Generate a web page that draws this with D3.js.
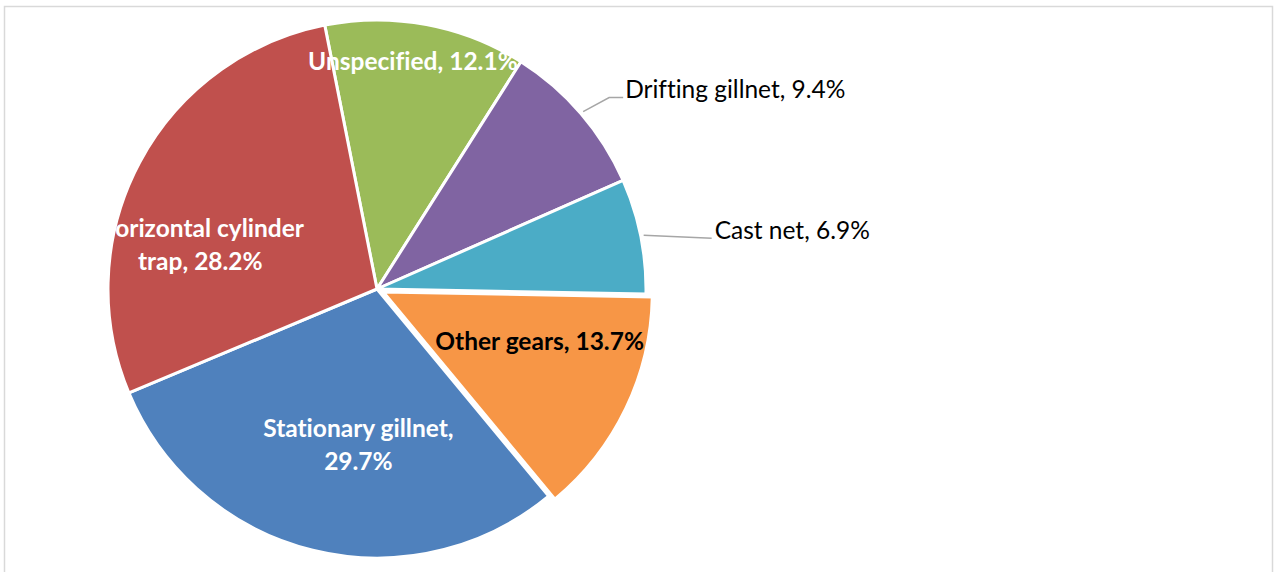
<!DOCTYPE html>
<html>
<head>
<meta charset="utf-8">
<script src="https://cdn.jsdelivr.net/npm/d3@7"></script>
<style>
  body { margin: 0; background: #fff; }
  svg { display: block; font-family: Lato, 'Noto Sans', sans-serif; font-variant-ligatures: none; }
  .leader { fill: none; stroke: #a6a6a6; stroke-width: 1.5; }
</style>
</head>
<body>
<div id="chart"></div>
<script>
// Gear types, clockwise from just left of 12 o'clock
const categories = ['Unspecified', 'Drifting gillnet', 'Cast net', 'Other gears', 'Stationary gillnet', 'Horizontal cylinder trap'];
const shares = [12.1, 9.4, 6.9, 13.7, 29.7, 28.2];
const colors = ['#9bbb59', '#8064a2', '#4bacc6', '#f79646', '#4f81bd', '#c0504d'];

// label layout: lines, colour, placement (angle shift in deg, radius fraction) or outside
const labelLayout = {
  'Unspecified': { lines: ['Unspecified, 12.1%'], fill: '#fff', bold: true, da: -1.6, rf: 0.855 },
  'Drifting gillnet': { lines: ['Drifting gillnet, 9.4%'], outside: true, knee: [26, -14], tx: 42, ty: -22 },
  'Cast net': { lines: ['Cast net, 6.9%'], outside: true, knee: [68, 3], tx: 71, ty: -5 },
  'Other gears': { lines: ['Other gears, 13.7%'], fill: '#000', bold: true, da: -8, rf: 0.61 },
  'Stationary gillnet': { lines: ['Stationary gillnet,', '29.7%'], fill: '#fff', bold: true, da: -7, rf: 0.583 },
  'Horizontal cylinder trap': { lines: ['Horizontal cylinder', 'trap, 28.2%'], fill: '#fff', bold: true, da: -14, rf: 0.677 }
};
const exploded = { 'Other gears': 7 };

const W = 1280, H = 572;
const cx = 377, cy = 289, R = 269;
const rad = d => d * Math.PI / 180;

const svg = d3.select('#chart').append('svg')
  .attr('width', W)
  .attr('height', H);

// chart frame
svg.append('rect')
  .attr('x', 4.5).attr('y', 6.5)
  .attr('width', 1268).attr('height', 600)
  .attr('fill', '#fff')
  .attr('stroke', '#d9d9d9')
  .attr('stroke-width', 1.5);

const data = categories.map((c, i) => ({ name: c, value: shares[i], color: colors[i] }));

const pie = d3.pie()
  .value(d => d.value)
  .sort(null)
  .startAngle(rad(-11.2))
  .endAngle(rad(-11.2) + 2 * Math.PI);

const arc = d3.arc().innerRadius(0).outerRadius(R);
const arcs = pie(data);

const g = svg.append('g')
  .attr('transform', `translate(${cx}, ${cy})`);

const mid = d => (d.startAngle + d.endAngle) / 2;
const shift = d => {
  const e = exploded[d.data.name] || 0;
  return [e * Math.sin(mid(d)), -e * Math.cos(mid(d))];
};

// slices
g.selectAll('path.slice')
  .data(arcs)
  .enter()
  .append('path')
  .attr('class', 'slice')
  .attr('d', arc)
  .attr('transform', d => `translate(${shift(d)})`)
  .attr('fill', d => d.data.color)
  .attr('stroke', '#fff')
  .attr('stroke-width', 3)
  .attr('stroke-linejoin', 'round');

// labels
arcs.forEach((d) => {
  const L = labelLayout[d.data.name];
  const [sx, sy] = shift(d);
  if (L.outside) {
    const a = mid(d);
    const p0 = [(R + 3) * Math.sin(a), -(R + 3) * Math.cos(a)];
    const p1 = [p0[0] + L.knee[0], p0[1] + L.knee[1]];
    const pts = [p0, p1];
    if (Math.abs(L.knee[1]) > 5) pts.push([p1[0] + 14, p1[1]]);
    g.append('path')
      .attr('class', 'leader')
      .attr('d', d3.line()(pts));
    g.append('text')
      .attr('x', p0[0] + L.tx)
      .attr('y', p0[1] + L.ty)
      .attr('dy', '0.35em')
      .attr('font-size', 24.5)
      .attr('fill', '#000')
      .text(L.lines[0]);
  } else {
    const a = mid(d) + rad(L.da);
    const x = sx + L.rf * R * Math.sin(a);
    const y = sy - L.rf * R * Math.cos(a);
    const lh = 32.5;
    const t = g.append('text')
      .attr('text-anchor', 'middle')
      .attr('font-size', 24.5)
      .attr('font-weight', 'bold')
      .attr('fill', L.fill);
    L.lines.forEach((s, i) => {
      t.append('tspan')
        .attr('x', x)
        .attr('y', y + (i - (L.lines.length - 1) / 2) * lh)
        .attr('dy', '0.35em')
        .text(s);
    });
  }
});
</script>
</body>
</html>
